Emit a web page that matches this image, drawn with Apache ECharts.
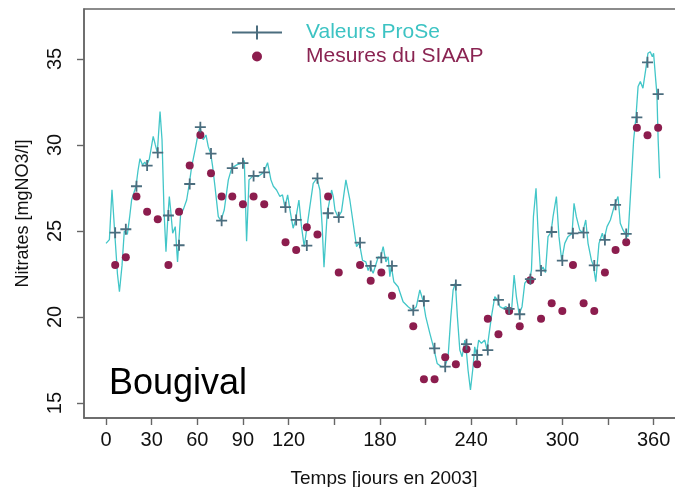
<!DOCTYPE html>
<html>
<head>
<meta charset="utf-8">
<script src="https://cdn.jsdelivr.net/npm/echarts@6/dist/echarts.min.js"></script>
<style>html,body{margin:0;padding:0;background:#fff}#c{width:675px;height:487px}</style>
</head>
<body>
<div id="c"></div>
<script>
// ---- data ----
const lineDays = [0,2.2,3.9,5.7,7.5,8.8,10.5,12.0,12.7,14.0,15.5,16.8,19.7,21.0,22.3,24.0,25.5,26.7,28.5,31.0,32.4,33.7,35.5,36.8,38.1,39.4,40.7,41.6,42.5,43.8,45.5,47.0,47.7,49.0,51.0,53.0,54.7,56.3,58.5,60.6,61.8,63.9,65.7,67.2,68.8,70.0,71.6,73.8,75.5,77.7,80.4,82.6,85.9,89.6,90.9,92.4,94.0,96.6,100.0,103.6,106.2,108.4,110.0,112.1,114.3,116.0,117.6,119.4,120.9,123.0,124.6,126.8,128.5,130.3,131.6,134.0,136.2,138.6,140.6,142.1,143.3,145.4,148.3,149.4,150.5,152.6,154.8,157.7,160.3,162.5,164.7,166.5,168.6,170.8,172.3,173.5,175.6,179.0,180.5,182.2,184.0,185.5,186.6,187.5,189.2,192.0,195.3,198.6,201.5,204.0,206.3,208.5,210.2,212.9,215.5,217.7,220.5,222.7,224.9,226.7,228.2,229.7,231.0,232.6,234.1,235.9,236.5,238.0,239.6,241.3,242.4,243.5,245.0,246.8,249.0,250.5,251.6,253.4,255.6,257.5,258.9,261.0,263.0,264.6,266.5,268.3,269.8,271.6,273.5,275.3,277.0,278.6,279.7,281.0,282.7,284.1,285.6,287.3,288.9,290.6,292.6,293.9,296.1,297.8,299.6,301.6,303.7,306.4,307.7,309.2,311.4,313.4,315.4,316.9,319.1,320.4,322.0,324.1,326.3,327.4,329.4,331.6,334.4,336.6,338.1,339.9,341.4,343.2,345.4,346.9,348.4,349.8,351.3,353.0,354.8,356.3,357.8,359.2,360.0,361.4,362.2,363.0,364.0];
const lineValues = [24.28,24.5,27.4,24.9,22.5,21.47,23.0,25.0,25.1,24.8,25.8,26.8,27.6,28.5,29.2,28.84,29.0,28.8,29.2,30.5,30.0,29.55,31.94,30.3,26.2,23.8,25.9,27.0,26.2,24.87,25.25,23.2,24.17,25.93,26.3,26.8,27.73,28.74,29.7,30.68,31.03,30.3,30.58,29.9,29.5,28.8,27.6,25.83,25.6,26.22,27.97,28.65,28.84,28.94,29.1,24.4,27.97,28.2,28.16,28.4,28.97,27.97,27.6,27.38,27.0,27.1,26.38,27.1,26.22,25.16,25.64,26.8,25.25,24.09,24.15,26.41,27.77,28.06,27.38,25.25,22.9,26.03,27.38,27.0,26.22,25.8,26.12,27.97,26.8,25.45,24.09,24.32,23.3,23.2,22.7,22.97,22.54,23.5,23.45,24.09,23.2,23.5,22.34,22.97,22.05,21.76,20.89,20.6,20.39,20.6,21.57,20.93,20.02,19.05,18.18,17.3,17.11,17.11,17.69,20.02,21.57,21.96,20.02,18.08,17.69,18.66,18.42,16.92,15.76,17.11,18.27,17.79,18.66,18.47,18.66,18.08,18.86,20.02,21.18,20.99,20.6,20.5,20.6,20.47,20.2,22.44,21.18,20.16,20.6,21.96,22.15,22.2,22.73,25.83,27.48,24.87,22.7,22.9,22.58,24.67,24.94,25.83,27.0,24.67,23.28,24.28,24.67,24.86,26.61,25.83,25.06,24.9,25.64,24.28,23.3,23.0,22.05,24.28,24.87,24.48,25.25,25.64,26.52,27.0,25.45,25.06,24.83,24.67,27.97,30.3,31.6,33.39,33.68,33.3,34.36,35.33,35.42,35.13,35.33,33.78,32.95,30.3,28.06];

const measureDays = [6,13,20,27,34,41,48,55,62,69,76,83,90,97,104,118,125,132,139,146,153,167,174,181,188,202,209,216,223,230,237,244,251,258,265,272,279,286,293,300,307,314,321,328,335,342,349,356,363];
const proseValues = [24.9,25.1,27.6,28.8,29.55,25.9,24.17,27.73,31.03,29.5,25.6,28.65,28.94,28.2,28.4,26.38,25.64,24.15,28.06,26.03,25.8,24.32,22.97,23.45,22.97,20.39,20.93,18.18,17.11,21.86,18.42,17.79,18.08,20.99,20.47,20.16,22.2,22.7,24.94,23.28,24.86,24.9,23.0,24.48,26.52,24.83,31.6,34.8,32.95];
const siaapValues = [23.02,23.47,27.0,26.12,25.68,23.02,26.12,28.8,30.58,28.35,27.0,27.0,26.55,27.0,26.55,24.34,23.9,25.21,24.79,27.0,22.58,23.02,22.1,22.58,21.24,19.46,16.38,16.38,17.66,17.25,18.12,17.25,19.9,19.0,20.35,19.46,22.13,19.9,20.8,20.35,23.02,20.8,20.35,22.58,23.9,24.34,31.0,30.56,31.0];

const xTicks = [0,30,60,90,120,150,180,210,240,270,300,330,360];
const xLabels = [0,30,60,90,120,180,240,300,360];
const yTicks = [15,20,25,30,35];

const seriesNames = ['Valeurs ProSe', 'Mesures du SIAAP'];
const xTitle = 'Temps [jours en 2003]';
const yTitle = 'Nitrates [mgNO3/l]';
const stationName = 'Bougival';

// ---- styles ----
const FONT = 'Liberation Sans, Arial, Helvetica, sans-serif';
const C_LINE = '#42C6C8';
const C_CROSS = '#4B6D7E';
const C_DOT = '#8C1D4E';
const C_AXIS = '#666666';

const zip = (a, b) => a.map((v, i) => [v, b[i]]);
const crossPath = 'path://M0,5 L10,5 M5,0 L5,10';

const chart = echarts.init(document.getElementById('c'), null, {renderer: 'canvas'});
chart.setOption({
  animation: false,
  backgroundColor: '#fff',
  textStyle: {fontFamily: FONT},
  grid: {
    left: 84, top: 9, width: 600, height: 409,
    show: true, borderColor: C_AXIS, borderWidth: 1.5, backgroundColor: 'transparent',
    containLabel: false, outerBoundsMode: 'none'
  },
  legend: {
    orient: 'vertical', left: 231, top: 22, itemGap: 3, padding: 0,
    itemWidth: 69, itemHeight: 14,
    selectedMode: false,
    textStyle: {fontFamily: FONT, fontSize: 21},
    data: [
      {name: seriesNames[0],
       icon: 'path://M0,0 M69,14 M0,7 L50,7 M25,0 L25,14',
       itemStyle: {color: 'transparent', borderColor: C_CROSS, borderWidth: 2},
       textStyle: {color: '#3CC3C3'}},
      {name: seriesNames[1],
       icon: 'path://M0,0 M69,14 M20,7 A5,5 0 1 1 30,7 A5,5 0 1 1 20,7 Z',
       itemStyle: {color: C_DOT, borderWidth: 0},
       textStyle: {color: '#8A2452'}}
    ]
  },
  xAxis: {
    type: 'value', min: -14.5, max: 380, position: 'bottom',
    splitLine: {show: false},
    axisLine: {show: true, onZero: false, lineStyle: {color: C_AXIS, width: 1.5}},
    axisTick: {show: true, inside: false, customValues: xTicks, length: 7, lineStyle: {color: C_AXIS, width: 1.4}},
    axisLabel: {customValues: xLabels, margin: 12, fontSize: 20, color: '#111', fontFamily: FONT},
    name: xTitle, nameLocation: 'middle', nameGap: 51,
    nameTextStyle: {fontSize: 19, color: '#111', fontFamily: FONT}
  },
  yAxis: {
    type: 'value', min: 14.13, max: 37.9, position: 'left',
    splitLine: {show: false},
    axisLine: {show: true, onZero: false, lineStyle: {color: C_AXIS, width: 1.5}},
    axisTick: {show: true, inside: false, customValues: yTicks, length: 7, lineStyle: {color: C_AXIS, width: 1.4}},
    axisLabel: {customValues: yTicks, rotate: 90, margin: 19, fontSize: 20, color: '#111', fontFamily: FONT},
    name: yTitle, nameLocation: 'middle', nameGap: 52, nameRotate: 90,
    nameTextStyle: {fontSize: 18, color: '#111', fontFamily: FONT}
  },
  graphic: [{
    type: 'text', left: 109, top: 366, z: 10,
    style: {text: stationName, font: '36px ' + FONT, fill: '#000'}
  }],
  series: [
    {
      name: seriesNames[0], type: 'line', data: zip(lineDays, lineValues),
      showSymbol: false, symbol: 'none', smooth: false,
      lineStyle: {color: C_LINE, width: 1.3}, z: 2
    },
    {
      name: seriesNames[0], type: 'scatter', data: zip(measureDays, proseValues),
      symbol: crossPath, symbolSize: 11,
      itemStyle: {color: 'transparent', borderColor: C_CROSS, borderWidth: 1.8, opacity: 1}, z: 4
    },
    {
      name: seriesNames[1], type: 'scatter', data: zip(measureDays, siaapValues),
      symbol: 'circle', symbolSize: 8,
      itemStyle: {color: C_DOT, opacity: 1}, z: 3
    }
  ]
});
</script>
</body>
</html>
